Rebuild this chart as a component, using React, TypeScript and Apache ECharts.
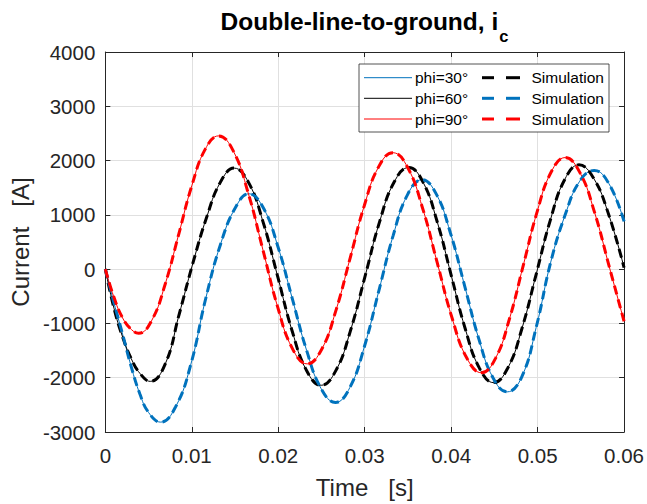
import React, { useEffect, useRef } from "react";
import * as echarts from "echarts";

// ---- data ----
const xTicks = [0, 0.01, 0.02, 0.03, 0.04, 0.05, 0.06];
const yTicks = [-3000, -2000, -1000, 0, 1000, 2000, 3000, 4000];

// phi = 30 deg (blue)
const tBlue = [0, 0.001, 0.002, 0.003, 0.004, 0.005, 0.0064, 0.00813, 0.00987, 0.0116, 0.01333, 0.01507, 0.0166,
  0.01827, 0.01994, 0.02161, 0.02328, 0.02495, 0.02662, 0.02829, 0.02996, 0.03163, 0.0333, 0.03496, 0.03663,
  0.03827, 0.03991, 0.04156, 0.0432, 0.04484, 0.04648, 0.04816, 0.04984, 0.05152, 0.05319, 0.05487, 0.05655,
  0.05823, 0.06];
const iBlue = [0, -620, -1200, -1800, -2300, -2640, -2818, -2536, -1766, -550, 460, 1140, 1388,
  1130, 427, -534, -1495, -2198, -2455, -2179, -1429, -403, 623, 1373, 1648,
  1386, 670, -307, -1284, -2000, -2261, -1988, -1070, 130, 1000, 1620, 1818,
  1580, 880];

// phi = 60 deg (black)
const tBlack = [0, 0.001, 0.002, 0.003, 0.004, 0.0052, 0.00692, 0.00851, 0.01011, 0.01171, 0.0133, 0.0149,
  0.01658, 0.01826, 0.01994, 0.02161, 0.02329, 0.02497, 0.02666, 0.02835, 0.03004, 0.03172, 0.03341, 0.0351,
  0.03673, 0.03837, 0.04, 0.04163, 0.04327, 0.0449, 0.04655, 0.0482, 0.04985, 0.0515, 0.05314, 0.05479,
  0.05646, 0.05813, 0.06];
const iBlack = [0, -720, -1250, -1650, -1920, -2067, -1750, -850, 100, 950, 1598, 1861,
  1593, 861, -139, -1139, -1871, -2139, -1870, -1136, -133, 870, 1604, 1873,
  1608, 882, -108, -1098, -1824, -2090, -1822, -1088, -85, 918, 1652, 1921,
  1680, 1050, 30];

// phi = 90 deg (red)
const tRed = [0, 0.001, 0.002, 0.003, 0.00385, 0.00539, 0.00693, 0.00848, 0.01002, 0.01156, 0.0131,
  0.01481, 0.01652, 0.01823, 0.01993, 0.02164, 0.02335, 0.025, 0.02665, 0.02831, 0.02996, 0.03161, 0.03326,
  0.03497, 0.03668, 0.03839, 0.0401, 0.04181, 0.04352, 0.04513, 0.04674, 0.04835, 0.04996, 0.05157, 0.05318,
  0.05488, 0.05658, 0.05828, 0.06];
const iRed = [0, -520, -900, -1110, -1182, -938, -273, 637, 1546, 2211, 2455,
  2174, 1405, 355, -695, -1464, -1745, -1484, -773, 200, 1173, 1884, 2145,
  1873, 1132, 118, -896, -1637, -1909, -1643, -918, 73, 1064, 1789, 2055,
  1782, 1050, 50, -960];

const legendRows = [
  { label: "phi=30°", line: "#0072BD", sim: "#000000" },
  { label: "phi=60°", line: "#000000", sim: "#0072BD" },
  { label: "phi=90°", line: "#FF0000", sim: "#FF0000" },
];

const FONT = '"Liberation Sans", Arial, Helvetica, sans-serif';
const AX = "#262626";

function zip(t: number[], v: number[]) {
  return t.map((x, k) => [x, v[k]]);
}

function lineSeries(data: number[][], color: string, width: number, dashed: boolean, z: number) {
  return {
    type: "line",
    data,
    showSymbol: false,
    symbol: "none",
    smooth: 0.45,
    silent: true,
    z,
    lineStyle: { color, width, type: dashed ? [9, 5] : "solid", cap: "butt" },
  };
}

export default function App() {
  const ref = useRef<HTMLDivElement>(null);
  useEffect(() => {
    document.body.style.margin = "0";
    const chart = echarts.init(ref.current!, undefined, { renderer: "svg" });
    const gl = 104, gt = 52, gw = 521, gh = 385;
    const blue = zip(tBlue, iBlue);
    const black = zip(tBlack, iBlack);
    const red = zip(tRed, iRed);

    const legendX = 359, legendY = 64, legendW = 250, legendH = 68;
    const rowY = [77.7, 98.3, 119];
    const legendEls: any[] = [
      {
        type: "rect",
        shape: { x: legendX, y: legendY, width: legendW, height: legendH },
        style: { fill: "#ffffff", stroke: AX, lineWidth: 0.8 },
        z: 100,
      },
    ];
    legendRows.forEach((r, k) => {
      const y = rowY[k];
      legendEls.push(
        { type: "line", shape: { x1: 364, y1: y, x2: 412, y2: y }, style: { stroke: r.line, lineWidth: 1 }, z: 101 },
        { type: "text", x: 415, y, style: { text: r.label, fontSize: 15.5, fontFamily: FONT, fill: "#000", align: "left", verticalAlign: "middle" }, z: 101 },
        { type: "line", shape: { x1: 482, y1: y, x2: 494, y2: y }, style: { stroke: r.sim, lineWidth: 3 }, z: 101 },
        { type: "line", shape: { x1: 506, y1: y, x2: 520, y2: y }, style: { stroke: r.sim, lineWidth: 3 }, z: 101 },
        { type: "text", x: 531.5, y, style: { text: "Simulation", fontSize: 15.5, fontFamily: FONT, fill: "#000", align: "left", verticalAlign: "middle" }, z: 101 }
      );
    });

    const axisCommon = {
      type: "value",
      axisLine: { show: true, onZero: false, lineStyle: { color: AX, width: 1 } },
      axisTick: { show: true, inside: true, length: 5, lineStyle: { color: AX } },
    };

    chart.setOption({
      animation: false,
      backgroundColor: "#ffffff",
      grid: { left: gl, top: gt, width: gw, height: gh, show: false },
      xAxis: [
        {
          ...axisCommon,
          position: "bottom",
          min: xTicks[0],
          max: xTicks[xTicks.length - 1],
          interval: 0.01,
          axisLabel: {
            fontSize: 20.5,
            fontFamily: FONT,
            color: AX,
            margin: 13,
            formatter: (v: number) => (v === 0 ? "0" : v.toFixed(2)),
          },
          splitLine: { show: true, lineStyle: { color: "#e0e0e0", width: 1 } },
          name: "Time\u00a0\u00a0\u00a0[s]",
          nameLocation: "middle",
          nameGap: 43,
          nameTextStyle: { fontSize: 24, fontFamily: FONT, color: AX },
        },
        {
          ...axisCommon,
          position: "top",
          min: xTicks[0],
          max: xTicks[xTicks.length - 1],
          interval: 0.01,
          axisLabel: { show: false },
          splitLine: { show: false },
        },
      ],
      yAxis: [
        {
          ...axisCommon,
          position: "left",
          min: yTicks[0],
          max: yTicks[yTicks.length - 1],
          interval: 1000,
          axisLabel: {
            fontSize: 20.5,
            fontFamily: FONT,
            color: AX,
            margin: 10,
            formatter: (v: number) => String(v),
          },
          splitLine: { show: true, lineStyle: { color: "#e0e0e0", width: 1 } },
          name: "Current\u00a0\u00a0\u00a0[A]",
          nameLocation: "middle",
          nameGap: 69,
          nameRotate: 90,
          nameTextStyle: { fontSize: 24, fontFamily: FONT, color: AX },
        },
        {
          ...axisCommon,
          position: "right",
          min: yTicks[0],
          max: yTicks[yTicks.length - 1],
          interval: 1000,
          axisLabel: { show: false },
          splitLine: { show: false },
        },
      ],
      series: [
        lineSeries(blue, "#0072BD", 1, false, 2),
        lineSeries(black, "#000000", 1, false, 3),
        lineSeries(red, "#FF0000", 1, false, 4),
        lineSeries(black, "#000000", 3, true, 5),
        lineSeries(blue, "#0072BD", 3, true, 6),
        lineSeries(red, "#FF0000", 3, true, 7),
      ],
      graphic: [
        {
          type: "text",
          x: gl + gw / 2,
          y: 9,
          z: 100,
          style: {
            text: "{a|Double-line-to-ground, i}{b|c}",
            align: "center",
            verticalAlign: "top",
            rich: {
              a: { fontSize: 24.5, fontWeight: "bold", fontFamily: FONT, fill: "#000", lineHeight: 28, verticalAlign: "top" },
              b: { fontSize: 16.5, fontWeight: "bold", fontFamily: FONT, fill: "#000", lineHeight: 18, padding: [18, 0, 0, 1], verticalAlign: "top" },
            },
          },
        },
        ...legendEls,
      ],
    });
    return () => chart.dispose();
  }, []);
  return <div ref={ref} style={{ width: 647, height: 504 }} />;
}
